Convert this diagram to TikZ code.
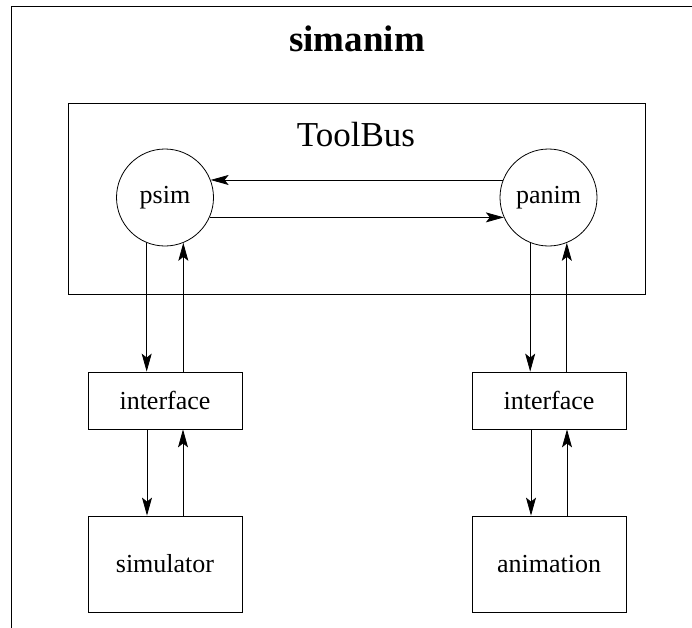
\documentclass[tikz,border=0pt]{standalone}
\usepackage{fontspec}
\setmainfont{Liberation Serif}
\usetikzlibrary{arrows.meta}
\tikzstyle{process}=[circle,draw,minimum size=97pt,inner sep=0pt,font=\fontsize{26}{30}\selectfont]
\tikzstyle{block}=[rectangle,draw,minimum width=154pt,inner sep=0pt,font=\fontsize{26}{30}\selectfont]
\tikzstyle{edge}=[draw,-{Stealth[length=18pt,width=10pt,inset=4pt]}]

\begin{document}
\begin{tikzpicture}[x=1pt,y=-1pt,line width=0.8pt]
  \clip (0,0) rectangle (692,627);
  % outer frame, cut off at the right and bottom
  \draw (11,6) rectangle (760,700);
  \node[font=\fontsize{37}{44}\selectfont\bfseries,anchor=base] (title) at (357,51) {simanim};

  % the bus with its two processes
  \node[draw,minimum width=577pt,minimum height=191pt] (toolbus) at (356.5,198.5) {};
  \node[font=\fontsize{35}{42}\selectfont,anchor=base] (buslabel) at (356,146) {ToolBus};
  \foreach \pos/\name in {{(165,197.5)/psim},{(548.5,197.5)/panim}}
    \node[process] (\name) at \pos {\name};

  % interfaces and tools
  \foreach \pos/\name/\txt in {{(165,400.5)/ifsim/interface},{(549,400.5)/ifanim/interface}}
    \node[block,minimum height=57pt] (\name) at \pos {\txt};
  \foreach \pos/\name in {{(165,564)/simulator},{(549,564)/animation}}
    \node[block,minimum height=96pt] (\name) at \pos {\name};

  % messages between the processes
  \path[edge] (panim.159) -- (psim.21);
  \path[edge] (psim.-24) -- (panim.-156);

  % down and up links
  \foreach \proc/\inter/\tool in {psim/ifsim/simulator, panim/ifanim/animation} {
    \path[edge] (\proc.-112) -- (\proc.-112 |- \inter.north);
    \path[edge] (\inter.north -| \proc.-68) -- (\proc.-68);
    \path[edge] ([xshift=-18pt]\inter.south) -- ([xshift=-18pt]\tool.north);
    \path[edge] ([xshift=18pt]\tool.north) -- ([xshift=18pt]\inter.south);
  }
\end{tikzpicture}
\end{document}
